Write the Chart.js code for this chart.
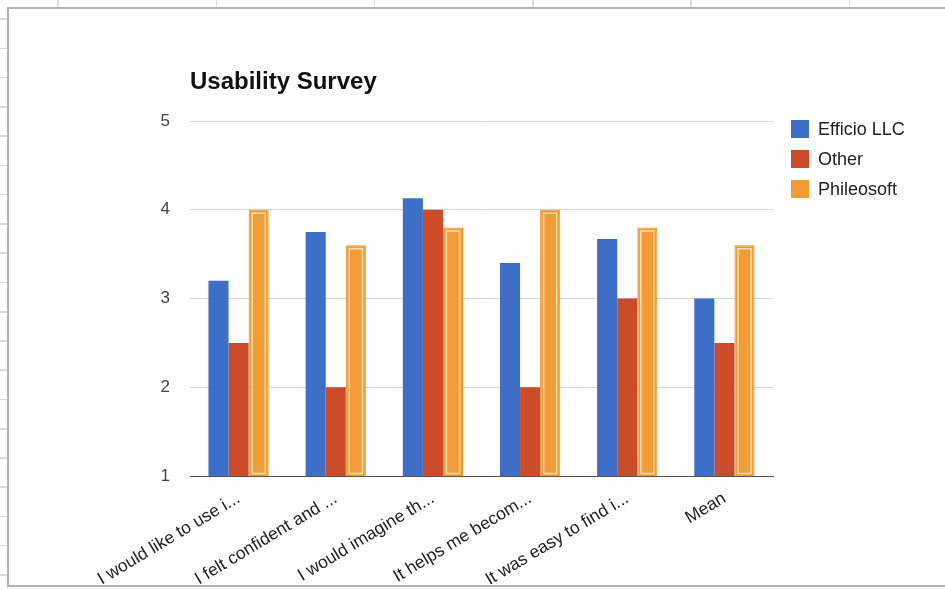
<!DOCTYPE html>
<html>
<head>
<meta charset="utf-8">
<script src="https://cdn.jsdelivr.net/npm/chart.js@4/dist/chart.umd.min.js"></script>
<style>
  html, body { margin: 0; padding: 0; background: #fff; width: 945px; height: 590px; overflow: hidden; font-family: "Liberation Sans", Arial, sans-serif; }
  #sheetV { position: absolute; left: 0; top: 0; width: 945px; height: 8px;
    background-image: repeating-linear-gradient(to right, transparent 0, transparent 57.5px, #dcdcdc 57.5px, #dcdcdc 59px, transparent 59px, transparent 158.2px); }
  #sheetH { position: absolute; left: 0; top: 0; width: 8px; height: 590px;
    background-image: repeating-linear-gradient(to bottom, transparent 0, transparent 18.5px, #dcdcdc 18.5px, #dcdcdc 20px, transparent 20px, transparent 29.25px); }
  #box { position: absolute; left: 7px; top: 7px; width: 945px; height: 576px; border: 2px solid #b3b3b3; border-right: none; background: #fff; }
  #c { position: absolute; left: 2px; top: 0px; }
  #title { position: absolute; left: 181px; top: 60px; font: bold 24px "Liberation Sans", Arial, sans-serif; line-height: 24px; color: #111; white-space: nowrap; }
  #legend { position: absolute; left: 782px; top: 111px; }
  .li { position: relative; height: 30px; }
  .sw { position: absolute; left: 0; top: 0; width: 18px; height: 18px; }
  .lt { position: absolute; left: 27px; top: -1px; font: 18px "Liberation Sans", Arial, sans-serif; line-height: 20px; color: #222; white-space: nowrap; }
</style>
</head>
<body>
<div id="sheetV"></div>
<div id="sheetH"></div>
<div id="box">
  <canvas id="c" width="936" height="575"></canvas>
  <div id="title">Usability Survey</div>
  <div id="legend"></div>
</div>
<script>
const chartTitle = "Usability Survey";
const categories = ["I would like to use i...", "I felt confident and ...", "I would imagine th...", "It helps me becom...", "It was easy to find i...", "Mean"];
const seriesNames = ["Efficio LLC", "Other", "Phileosoft"];
const efficio = [3.2, 3.75, 4.13, 3.4, 3.67, 3.0];
const other = [2.5, 2.0, 4.0, 2.0, 3.0, 2.5];
const phileosoft = [4.0, 3.6, 3.8, 4.0, 3.8, 3.6];
const yTicks = [1, 2, 3, 4, 5];
const seriesColors = ["#3d6fc9", "#cc4b29", "#f39c35"];

document.getElementById('title').textContent = chartTitle;
const legendEl = document.getElementById('legend');
seriesNames.forEach((n, i) => {
  const d = document.createElement('div'); d.className = 'li';
  const s = document.createElement('div'); s.className = 'sw'; s.style.background = seriesColors[i];
  const t = document.createElement('div'); t.className = 'lt'; t.textContent = n;
  d.appendChild(s); d.appendChild(t); legendEl.appendChild(d);
});

const innerOutline = {
  id: 'innerOutline',
  afterDatasetsDraw(chart) {
    const meta = chart.getDatasetMeta(2);
    const ctx = chart.ctx;
    const bottom = chart.chartArea.bottom;
    ctx.save();
    ctx.strokeStyle = 'rgba(255,228,185,0.95)';
    ctx.lineWidth = 1.5;
    meta.data.forEach(bar => {
      const p = bar.getProps(['x', 'y', 'base', 'width'], true);
      const b = Math.min(p.base, bottom);
      const l = p.x - p.width / 2 + 3.5;
      ctx.strokeRect(l, p.y + 3.5, p.width - 7, b - p.y - 6);
    });
    ctx.restore();
  }
};

Chart.defaults.font.family = '"Liberation Sans", Arial, sans-serif';
new Chart(document.getElementById('c'), {
  type: 'bar',
  data: {
    labels: categories,
    datasets: [
      { label: seriesNames[0], data: efficio, backgroundColor: seriesColors[0], borderWidth: 0 },
      { label: seriesNames[1], data: other, backgroundColor: seriesColors[1], borderWidth: 0 },
      { label: seriesNames[2], data: phileosoft, backgroundColor: seriesColors[2], borderColor: '#ea9128', borderWidth: 1 }
    ]
  },
  options: {
    responsive: false,
    animation: false,
    devicePixelRatio: 1,
    layout: { padding: { left: 0, right: 174, top: 112, bottom: 0 } },
    plugins: { legend: { display: false }, title: { display: false }, tooltip: { enabled: false } },
    datasets: { bar: { categoryPercentage: 0.62, barPercentage: 1.0 } },
    scales: {
      x: {
        grid: { display: false },
        border: { display: true, color: '#555', width: 1 },
        ticks: { color: '#222', font: { size: 17.5 }, maxRotation: 31, minRotation: 31, autoSkip: false, padding: 4 },
        afterFit(scale) { scale.height = 108; }
      },
      y: {
        min: 1, max: 5,
        afterBuildTicks(scale) { scale.ticks = yTicks.map(v => ({ value: v })); },
        grid: { drawTicks: false, color: ctx => (ctx.tick && ctx.tick.value === 1) ? '#555' : '#d6d6d6' },
        border: { display: false },
        ticks: { color: '#444', font: { size: 17 }, padding: 20 },
        afterFit(scale) { scale.width = 179; }
      }
    }
  },
  plugins: [innerOutline]
});
</script>
</body>
</html>
